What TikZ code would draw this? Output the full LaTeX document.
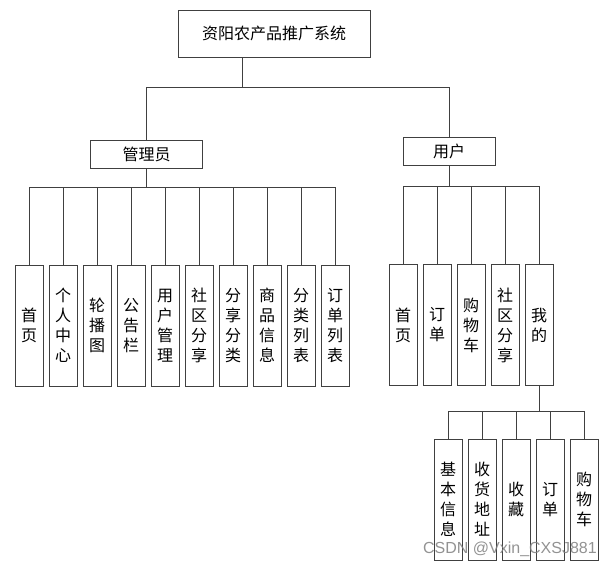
\documentclass[tikz,border=0pt]{standalone}
\usepackage{fontspec}
\newfontfamily\cjk{Noto Sans CJK SC}
\newfontfamily\wmfont{Liberation Sans}
\begin{document}
\begin{tikzpicture}[x=1pt,y=-1pt,
  box/.style={draw=black!75, line width=0.9pt, fill=white, inner sep=0pt,
    font=\cjk\fontsize{16}{20}\selectfont, align=center},
  leaf/.style={box, minimum width=28pt, minimum height=121pt},
  conn/.style={draw=black!75, line width=0.9pt}]
\useasboundingbox (0,0) rectangle (608,566);
% top levels
\node[box, minimum width=192pt, minimum height=47pt] (top) at (274,33.5) {资阳农产品推广系统};
\node[box, minimum width=112pt, minimum height=28pt] (admin) at (146.5,154) {管理员};
\node[box, minimum width=92pt, minimum height=28pt] (user) at (449,151) {用户};
% admin leaves
\node[leaf] (a1) at (29,325.5) {首\\页};
\node[leaf] (a2) at (63,325.5) {个\\人\\中\\心};
\node[leaf] (a3) at (97,325.5) {轮\\播\\图};
\node[leaf] (a4) at (131,325.5) {公\\告\\栏};
\node[leaf] (a5) at (165,325.5) {用\\户\\管\\理};
\node[leaf] (a6) at (199,325.5) {社\\区\\分\\享};
\node[leaf] (a7) at (233,325.5) {分\\享\\分\\类};
\node[leaf] (a8) at (267,325.5) {商\\品\\信\\息};
\node[leaf] (a9) at (301,325.5) {分\\类\\列\\表};
\node[leaf] (a10) at (335,325.5) {订\\单\\列\\表};
% user leaves
\node[leaf] (u1) at (403,325) {首\\页};
\node[leaf] (u2) at (437,325) {订\\单};
\node[leaf] (u3) at (471,325) {购\\物\\车};
\node[leaf] (u4) at (505,325) {社\\区\\分\\享};
\node[leaf] (u5) at (539,325) {我\\的};
% mine leaves
\node[leaf] (m1) at (448,499.5) {基\\本\\信\\息};
\node[leaf] (m2) at (482,499.5) {收\\货\\地\\址};
\node[leaf] (m3) at (516,499.5) {收\\藏};
\node[leaf] (m4) at (550,499.5) {订\\单};
\node[leaf] (m5) at (584,499.5) {购\\物\\车};
% bus coordinates
\coordinate (b0) at (242,87);
\coordinate (ba) at (146.5,187);
\coordinate (bu) at (449,186);
\coordinate (bm) at (539,411);
% top connectors
\draw[conn] (top.south -| b0) -- (b0);
\draw[conn] (admin.north) -- (admin.north |- b0) -- (user.north |- b0) -- (user.north);
% admin connectors
\draw[conn] (admin.south) -- (ba);
\draw[conn] (a1.north |- ba) -- (a10.north |- ba);
\foreach \i in {1,...,10} \draw[conn] (a\i.north |- ba) -- (a\i.north);
% user connectors
\draw[conn] (user.south) -- (bu);
\draw[conn] (u1.north |- bu) -- (u5.north |- bu);
\foreach \i in {1,...,5} \draw[conn] (u\i.north |- bu) -- (u\i.north);
% mine connectors
\draw[conn] (u5.south) -- (bm);
\draw[conn] (m1.north |- bm) -- (m5.north |- bm);
\foreach \i in {1,...,5} \draw[conn] (m\i.north |- bm) -- (m\i.north);
% watermark
\node[font=\wmfont\fontsize{16}{16}\selectfont, text=black!50, opacity=0.85, anchor=east, inner sep=0pt] (wm) at (597,549) {CSDN @Vxin\_CXSJ881};
\end{tikzpicture}
\end{document}
